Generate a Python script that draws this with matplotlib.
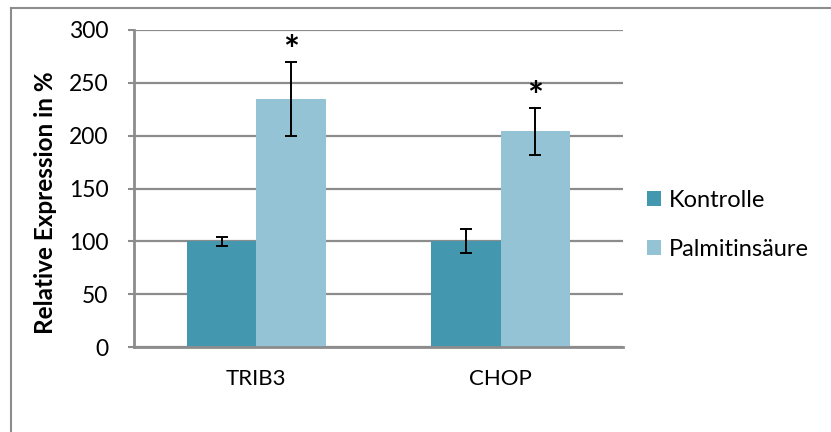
import matplotlib
matplotlib.use("Agg")
import matplotlib.pyplot as plt
from matplotlib.lines import Line2D
import numpy as np

plt.rcParams['font.family'] = ['Lato', 'DejaVu Sans']

# Data
genes = ['TRIB3', 'CHOP']
kontrolle = [100, 100]
kontrolle_err = [4.5, 11.5]
palmitin = [235, 204]
palmitin_err = [35, 22]
significant = ['*', '*']

c_kon = '#4398b0'
c_pal = '#93c3d5'
grid_c = '#8c8c8c'

fig = plt.figure(figsize=(8.31, 4.32), dpi=100)
ax = fig.add_axes([134 / 831, 1 - 347 / 432, 489 / 831, 317 / 432])

x = np.arange(len(genes))
w = 0.284
ekw = dict(ecolor='black', elinewidth=1.4, capsize=4, capthick=1.4)
ax.bar(x - w / 2, kontrolle, w, color=c_kon, label='Kontrolle', zorder=3,
       yerr=kontrolle_err, error_kw=ekw)
ax.bar(x + w / 2, palmitin, w, color=c_pal, label='Palmitinsäure', zorder=3,
       yerr=palmitin_err, error_kw=ekw)

for xi, v, e, s in zip(x, palmitin, palmitin_err, significant):
    ax.annotate(s, (xi + w / 2, v + e), xytext=(0, -5), textcoords='offset points',
                ha='center', va='bottom', fontsize=27, fontweight='bold')

ax.set_xlim(-0.5, 1.5)
ax.set_ylim(0, 300)
ax.set_yticks(range(0, 301, 50))
ax.set_xticks(x)
ax.set_xticklabels(genes)
ax.tick_params(axis='x', length=0, pad=16, labelsize=16)
ax.tick_params(axis='y', length=4.5, width=1.5, color=grid_c, pad=14, labelsize=16.5)
ax.yaxis.grid(True, color=grid_c, linewidth=1.6, zorder=0)
ax.set_axisbelow(True)
for s in ['top', 'right']:
    ax.spines[s].set_visible(False)
for s in ['left', 'bottom']:
    ax.spines[s].set_color(grid_c)
    ax.spines[s].set_linewidth(2)
    ax.spines[s].set_zorder(4)

ax.set_ylabel('Relative Expression in %', fontsize=17.5, fontweight='bold')
ax.yaxis.set_label_coords(-0.182, 0.454)
ax.yaxis.label.set_verticalalignment('center')

ax.legend(loc='center left', bbox_to_anchor=(1.029, 0.385), frameon=False,
          fontsize=17, handlelength=0.6, handleheight=0.6, handletextpad=0.35,
          labelspacing=1.2, borderaxespad=0)

# outer chart border (left and top edges visible)
fig.add_artist(Line2D([11 / 831, 11 / 831], [0, 1 - 8 / 432], color='#8c8c8c', lw=1.5))
fig.add_artist(Line2D([11 / 831, 1], [1 - 8 / 432, 1 - 8 / 432], color='#8c8c8c', lw=1.5))

fig.savefig('out.png', dpi=100)
